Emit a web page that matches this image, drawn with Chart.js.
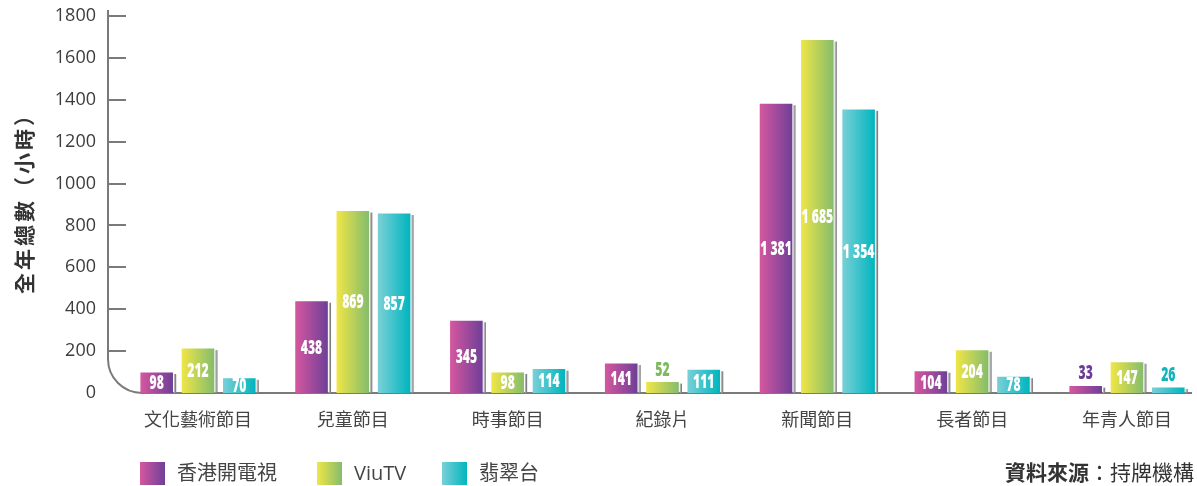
<!DOCTYPE html>
<html>
<head>
<meta charset="utf-8">
<script src="https://cdn.jsdelivr.net/npm/chart.js@4/dist/chart.umd.min.js"></script>
<style>
  html, body { margin: 0; padding: 0; background: #ffffff; }
  #wrap { position: relative; width: 1197px; height: 486px; }
</style>
</head>
<body>
<div id="wrap"><canvas id="c" width="1197" height="486"></canvas></div>
<script>
// ---------- data ----------
const categories = ['文化藝術節目', '兒童節目', '時事節目', '紀錄片', '新聞節目', '長者節目', '年青人節目'];
const seriesNames = ['香港開電視', 'ViuTV', '翡翠台'];
const hkTV = [98, 438, 345, 141, 1381, 104, 33];
const viuTV = [212, 869, 98, 52, 1685, 204, 147];
const tvb = [70, 857, 114, 111, 1354, 78, 26];
const yTicks = [0, 200, 400, 600, 800, 1000, 1200, 1400, 1600, 1800];
const yTitle = '全年總數（小時）';
const sourceBold = '資料來源';
const sourceRest = '：持牌機構';

// ---------- styles ----------
const gradStops = [
  ['#d5579f', '#6f3f98'],
  ['#f0e647', '#84bc6c'],
  ['#7ad0d7', '#00b5be']
];
const outsideColors = ['#6b3d96', '#7dba5c', '#12b3bb'];
const FONT = '"Open Sans", "Noto Sans CJK TC", sans-serif';
const CJK = '"Noto Sans CJK TC", "Open Sans", sans-serif';

const seriesValues = [hkTV, viuTV, tvb];
const datasets = seriesValues.map((vals, si) => ({
  label: seriesNames[si],
  data: vals.map((v, i) => ({ x: i, y: v })),
  backgroundColor: () => gradStops[si][0],
  borderWidth: 0,
  categoryPercentage: 0.8,
  barPercentage: 0.79,
  clip: false
}));

function fmt(v) {
  const s = String(v);
  return s.length > 3 ? s.slice(0, s.length - 3) + ' ' + s.slice(s.length - 3) : s;
}

const decor = {
  id: 'decor',
  beforeDatasetsDraw(chart) {
    const ctx = chart.ctx;
    const area = chart.chartArea;
    const ys = chart.scales.y;
    const r = 34;
    const x0 = area.left, yb = ys.getPixelForValue(0);
    ctx.save();
    ctx.strokeStyle = '#7a7a7a';
    ctx.lineWidth = 2;
    ctx.beginPath();
    ctx.moveTo(x0, area.top - 6);
    ctx.lineTo(x0, yb - r);
    ctx.arcTo(x0, yb, x0 + r, yb, r);
    ctx.lineTo(area.right + 2, yb);
    ctx.stroke();
    ys.ticks.forEach(t => {
      if (t.value === 0) return;
      const y = Math.round(ys.getPixelForValue(t.value));
      ctx.beginPath();
      ctx.moveTo(x0, y);
      ctx.lineTo(x0 + 18, y);
      ctx.stroke();
    });
    ctx.restore();
    chart.data.datasets.forEach((ds, si) => {
      const meta = chart.getDatasetMeta(si);
      meta.data.forEach(el => {
        const l = el.x - el.width / 2, rr = el.x + el.width / 2;
        const g = ctx.createLinearGradient(l, 0, rr, 0);
        g.addColorStop(0, gradStops[si][0]);
        g.addColorStop(1, gradStops[si][1]);
        el.options.backgroundColor = g;
        ctx.save();
        ctx.fillStyle = '#b0b0b0';
        ctx.fillRect(rr + 1, el.y + 1.5, 1, el.base - el.y - 1.5);
        ctx.fillStyle = '#808080';
        ctx.fillRect(rr + 2, el.y + 1.5, 1.2, el.base - el.y - 1.5);
        ctx.restore();
      });
    });
  },
  afterDatasetsDraw(chart) {
    const ctx = chart.ctx;
    chart.data.datasets.forEach((ds, si) => {
      const meta = chart.getDatasetMeta(si);
      meta.data.forEach((el, i) => {
        const v = seriesValues[si][i];
        let y, color;
        if (v >= 60) { y = (el.y + el.base) / 2; color = '#ffffff'; }
        else { y = el.y - 13; color = outsideColors[si]; }
        ctx.save();
        ctx.translate(el.x, y);
        ctx.scale(0.64, 1);
        ctx.font = '800 19px ' + FONT;
        ctx.fillStyle = color;
        ctx.textAlign = 'center';
        ctx.textBaseline = 'middle';
        ctx.fillText(fmt(v), 0, 1);
        ctx.restore();
      });
    });
  },
  afterDraw(chart) {
    const ctx = chart.ctx;
    ctx.save();
    ctx.translate(24, 198);
    ctx.rotate(-Math.PI / 2);
    ctx.font = 'bold 21px ' + CJK;
    ctx.fillStyle = '#333333';
    ctx.textAlign = 'center';
    ctx.textBaseline = 'middle';
    if ('letterSpacing' in ctx) ctx.letterSpacing = '3px';
    ctx.fillText(yTitle, 0, 0);
    ctx.restore();
    const lx = [140, 317, 442];
    chart.data.datasets.forEach((ds, si) => {
      const bx = lx[si], by = 462;
      const g = ctx.createLinearGradient(bx, 0, bx + 25, 0);
      g.addColorStop(0, gradStops[si][0]);
      g.addColorStop(1, gradStops[si][1]);
      ctx.save();
      ctx.fillStyle = g;
      ctx.fillRect(bx, by, 25, 23);
      ctx.font = '20px ' + FONT;
      ctx.fillStyle = '#444444';
      ctx.textAlign = 'left';
      ctx.textBaseline = 'middle';
      ctx.fillText(ds.label, bx + 37, by + 12);
      ctx.restore();
    });
    ctx.save();
    ctx.textBaseline = 'middle';
    ctx.textAlign = 'right';
    ctx.fillStyle = '#333333';
    ctx.font = '21px ' + CJK;
    const rx = 1194, sy = 472;
    ctx.fillText(sourceRest, rx, sy);
    const w = ctx.measureText(sourceRest).width;
    ctx.font = 'bold 21px ' + CJK;
    ctx.fillText(sourceBold, rx - w, sy);
    ctx.restore();
  }
};

const xMin = -0.5813, xMax = 6.407;

new Chart(document.getElementById('c'), {
  type: 'bar',
  data: { datasets },
  options: {
    responsive: false,
    animation: false,
    events: [],
    layout: { padding: { top: 16, right: 7, left: 0, bottom: 0 } },
    plugins: { legend: { display: false }, tooltip: { enabled: false }, title: { display: false } },
    scales: {
      x: {
        type: 'linear',
        offset: false,
        min: xMin,
        max: xMax,
        grid: { display: false, drawTicks: false, offset: false },
        border: { display: false },
        afterBuildTicks: (s) => { s.ticks = categories.map((_, i) => ({ value: i })); },
        afterFit: (s) => { s.height = 93; s.paddingLeft = 0; s.paddingRight = 0; },
        ticks: {
          autoSkip: false,
          maxRotation: 0,
          padding: 15,
          color: '#444444',
          font: { family: CJK, size: 18 },
          callback: (v) => categories[v]
        }
      },
      y: {
        min: 0,
        max: 1800,
        grid: { display: false, drawTicks: false },
        border: { display: false },
        afterBuildTicks: (s) => { s.ticks = yTicks.map(v => ({ value: v })); },
        afterFit: (s) => { s.width = 108; s.paddingTop = 0; s.paddingBottom = 0; },
        ticks: {
          padding: 12,
          color: '#3c3c3c',
          font: { family: FONT, size: 18 },
          callback: (v) => String(v)
        }
      }
    }
  },
  plugins: [decor]
});
</script>
</body>
</html>
